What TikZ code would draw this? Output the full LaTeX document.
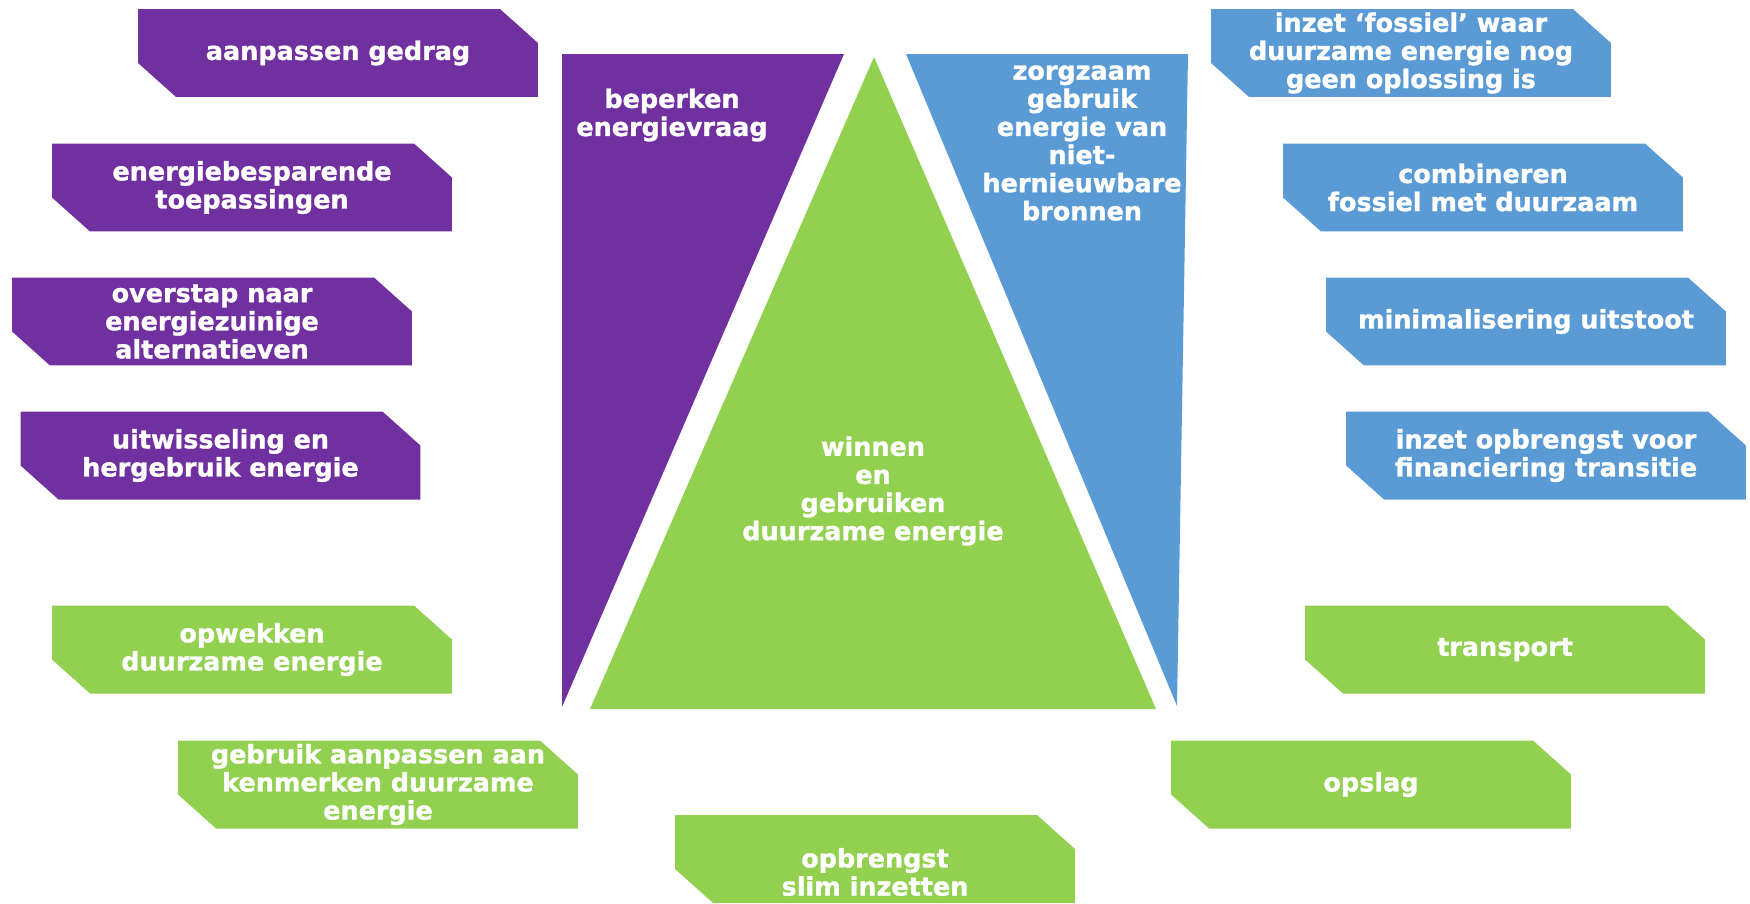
\documentclass[tikz,border=0pt]{standalone}
\usepackage{fontspec}
\newfontfamily\tagfamily{DejaVu Sans}[BoldFeatures={FakeBold=1.2}]
\definecolor{energypurple}{HTML}{7030A0}
\definecolor{energyblue}{HTML}{5B9BD5}
\definecolor{energygreen}{HTML}{92D050}
\tikzset{tag/.style={rectangle, minimum width=8cm, minimum height=1.76cm, inner sep=0pt,
  align=center, text=white, font=\tagfamily\bfseries\fontsize{14.5}{16}\selectfont,
  path picture={\fill[#1] (path picture bounding box.north west)
    -- ([xshift=-0.76cm]path picture bounding box.north east)
    -- ([yshift=-0.68cm]path picture bounding box.north east)
    -- ([yshift=-1.76cm]path picture bounding box.north east)
    -- ([xshift=0.76cm,yshift=-1.76cm]path picture bounding box.north west)
    -- ([yshift=-1.08cm]path picture bounding box.north west) -- cycle;}}}
\tikzstyle{big} = [align=center, text=white, font=\tagfamily\bfseries\fontsize{14.5}{16}\selectfont]

\begin{document}
\begin{tikzpicture}[x=0.02cm, y=-0.02cm]
\useasboundingbox (0,0) rectangle (1750,903);

% the three pillars
\fill[energypurple] (562,54) -- (844,54) -- (562,707) -- cycle;
\fill[energygreen] (874,57) -- (1156,709) -- (590,709) -- cycle;
\fill[energyblue] (906,54) -- (1188,54) -- (1177,706) -- cycle;

\node[big] (vraag) at (672,115) {beperken\\energievraag};
\node[big] (nietduurzaam) at (1082,143) {zorgzaam\\gebruik\\energie van\\niet-\\hernieuwbare\\bronnen};
\node[big] (duurzaam) at (873,491) {winnen\\en\\gebruiken\\duurzame energie};

% left
\node[tag=energypurple] (gedrag) at (338,53) {aanpassen gedrag};
\node[tag=energypurple] (besparend) at (252,187.5) {energiebesparende\\toepassingen};
\node[tag=energypurple] (overstap) at (212,321.5) {overstap naar\\energiezuinige\\alternatieven};
\node[tag=energypurple] (uitwisseling) at (220.5,455.5) {uitwisseling en\\hergebruik energie};

% bottom
\node[tag=energygreen] (opwekken) at (252,649.5) {opwekken\\duurzame energie};
\node[tag=energygreen] (kenmerken) at (378,784.5) {gebruik aanpassen aan\\kenmerken duurzame\\energie};
\node[tag=energygreen, minimum height=2.28cm] (opbrengst) at (875,872) {opbrengst\\slim inzetten};
\node[tag=energygreen] (opslag) at (1371,784.5) {opslag};
\node[tag=energygreen] (transport) at (1505,649.5) {transport};

% right
\node[tag=energyblue] (fossiel) at (1411,53) {inzet ‘fossiel’ waar\\duurzame energie nog\\geen oplossing is};
\node[tag=energyblue] (combineren) at (1483,187.5) {combineren\\fossiel met duurzaam};
\node[tag=energyblue] (uitstoot) at (1526,321.5) {minimalisering uitstoot};
\node[tag=energyblue] (financiering) at (1546,455.5) {inzet opbrengst voor\\financiering transitie};
\end{tikzpicture}
\end{document}
